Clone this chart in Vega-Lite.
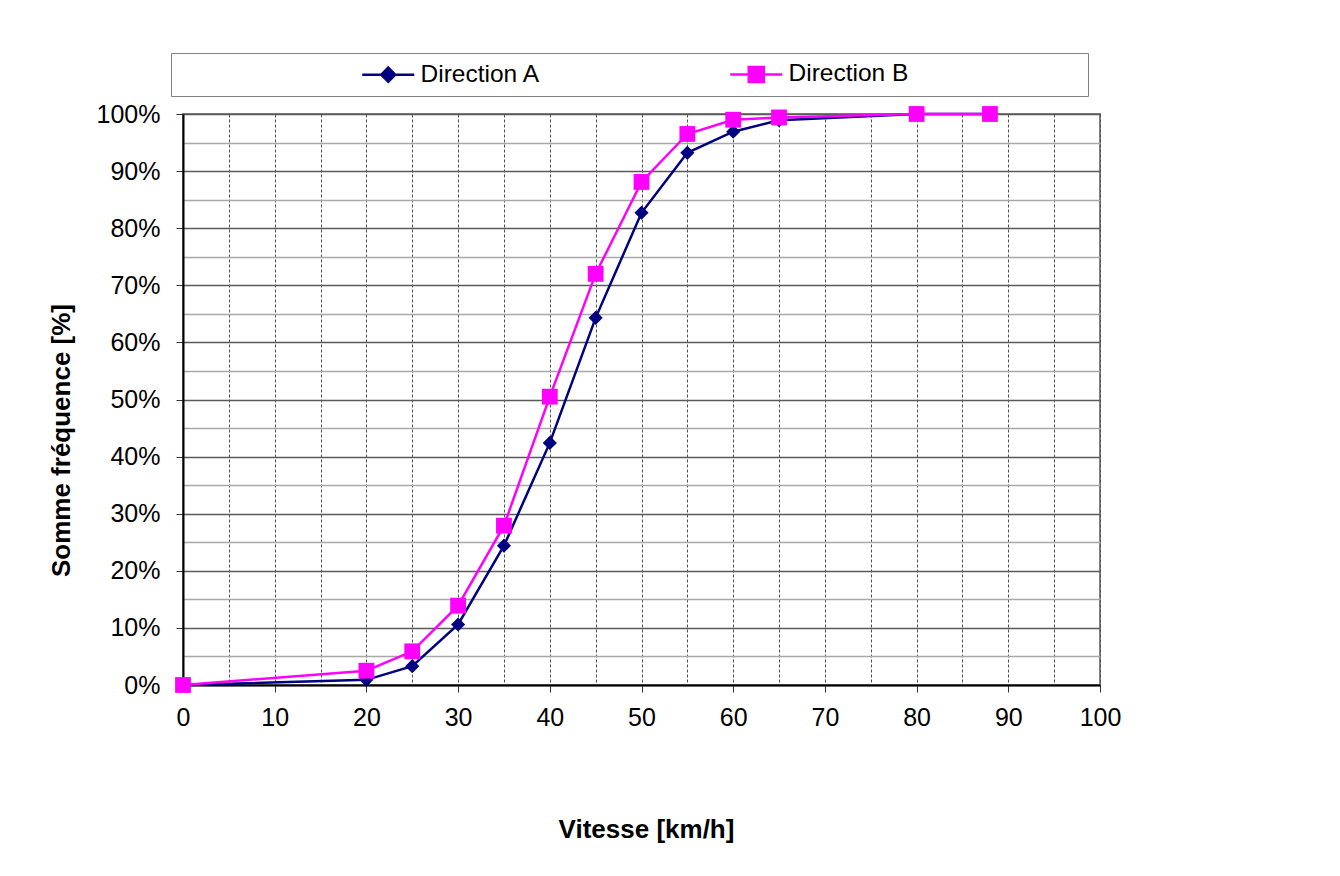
{
  "$schema": "https://vega.github.io/schema/vega-lite/v6.json",
  "autosize": {"type": "none"},
  "width": 917,
  "height": 571,
  "padding": {"left": 183, "top": 114, "right": 240, "bottom": 191},
  "background": "white",
  "config": {
    "font": "Liberation Sans",
    "view": {"stroke": "#808080", "strokeWidth": 2}
  },
  "data": {
    "values": [
      {"vitesse": 0, "freq": 0.0, "serie": "Direction A"},
      {"vitesse": 20, "freq": 0.009, "serie": "Direction A"},
      {"vitesse": 25, "freq": 0.033, "serie": "Direction A"},
      {"vitesse": 30, "freq": 0.106, "serie": "Direction A"},
      {"vitesse": 35, "freq": 0.244, "serie": "Direction A"},
      {"vitesse": 40, "freq": 0.424, "serie": "Direction A"},
      {"vitesse": 45, "freq": 0.643, "serie": "Direction A"},
      {"vitesse": 50, "freq": 0.827, "serie": "Direction A"},
      {"vitesse": 55, "freq": 0.932, "serie": "Direction A"},
      {"vitesse": 60, "freq": 0.969, "serie": "Direction A"},
      {"vitesse": 65, "freq": 0.989, "serie": "Direction A"},
      {"vitesse": 80, "freq": 1.0, "serie": "Direction A"},
      {"vitesse": 88, "freq": 1.0, "serie": "Direction A"},
      {"vitesse": 0, "freq": 0.0, "serie": "Direction B"},
      {"vitesse": 20, "freq": 0.025, "serie": "Direction B"},
      {"vitesse": 25, "freq": 0.059, "serie": "Direction B"},
      {"vitesse": 30, "freq": 0.139, "serie": "Direction B"},
      {"vitesse": 35, "freq": 0.279, "serie": "Direction B"},
      {"vitesse": 40, "freq": 0.505, "serie": "Direction B"},
      {"vitesse": 45, "freq": 0.720, "serie": "Direction B"},
      {"vitesse": 50, "freq": 0.881, "serie": "Direction B"},
      {"vitesse": 55, "freq": 0.965, "serie": "Direction B"},
      {"vitesse": 60, "freq": 0.990, "serie": "Direction B"},
      {"vitesse": 65, "freq": 0.994, "serie": "Direction B"},
      {"vitesse": 80, "freq": 1.0, "serie": "Direction B"},
      {"vitesse": 88, "freq": 1.0, "serie": "Direction B"}
    ]
  },
  "encoding": {
    "x": {
      "field": "vitesse", "type": "quantitative",
      "scale": {"domain": [0, 100], "nice": false, "zero": false},
      "axis": {
        "title": "Vitesse [km/h]",
        "titleFontSize": 26, "titleFontWeight": "bold", "titleColor": "black", "titlePadding": 86,
        "titleX": 463,
        "values": [0,5,10,15,20,25,30,35,40,45,50,55,60,65,70,75,80,85,90,95,100],
        "labelExpr": "datum.value % 10 === 0 ? datum.label : ''",
        "labelOverlap": false, "labelBound": false, "labelFlush": false,
        "labelFontSize": 25, "labelColor": "black", "labelPadding": 13,
        "tickSize": 7, "tickColor": "#333333", "tickWidth": 1,
        "tickOpacity": {"condition": {"test": "datum.value % 10 !== 0", "value": 0}, "value": 1},
        "domainColor": "black", "domainWidth": 2,
        "grid": true, "gridColor": "#505050", "gridDash": [3, 2], "gridWidth": 1
      }
    },
    "y": {
      "field": "freq", "type": "quantitative",
      "scale": {"domain": [0, 1], "nice": false},
      "axis": {
        "title": "Somme fréquence [%]",
        "titleFontSize": 26, "titleFontWeight": "bold", "titleColor": "black", "titlePadding": 22,
        "titleY": 326,
        "values": [0,0.05,0.1,0.15,0.2,0.25,0.3,0.35,0.4,0.45,0.5,0.55,0.6,0.65,0.7,0.75,0.8,0.85,0.9,0.95,1],
        "format": ".0%",
        "labelExpr": "round(datum.value * 100) % 10 === 0 ? datum.label : ''",
        "labelOverlap": false, "labelBound": false, "labelFlush": false,
        "labelFontSize": 25, "labelColor": "black", "labelPadding": 16,
        "tickSize": 7, "tickColor": "#333333", "tickWidth": 1,
        "tickOpacity": {"condition": {"test": "round(datum.value * 100) % 10 !== 0", "value": 0}, "value": 1},
        "domainColor": "black", "domainWidth": 2,
        "grid": true,
        "gridColor": {"condition": {"test": "round(datum.value * 100) % 10 === 0", "value": "#5a5a5a"}, "value": "#a8a8a8"},
        "gridWidth": 1.3
      }
    }
  },
  "layer": [
    {
      "mark": {"type": "line", "strokeWidth": 2.5},
      "encoding": {
        "color": {
          "field": "serie", "type": "nominal",
          "scale": {"domain": ["Direction A", "Direction B"], "range": ["#000080", "#FF00FF"]},
          "legend": {
            "title": null,
            "orient": "none", "legendX": -12, "legendY": -61,
            "direction": "horizontal", "columns": 2, "columnPadding": 7,
            "padding": 9,
            "strokeColor": "#808080", "fillColor": "white",
            "symbolSize": 4, "symbolStrokeWidth": 2.5, "symbolOffset": 196,
            "labelFont": "Liberation Sans", "labelFontSize": 24.5, "labelColor": "black",
            "labelOffset": 20, "labelLimit": 0,
            "encode": {
              "symbols": {
                "update": {
                  "shape": {"signal": "datum.value === 'Direction A' ? 'M-203,0M-26,0H26M0,-7L7,0L0,7L-7,0Z' : 'M-26,0H26M-7.5,-7.5H7.5V7.5H-7.5ZM317,0'"},
                  "fill": {"signal": "datum.value === 'Direction A' ? '#000080' : '#FF00FF'"},
                  "stroke": {"signal": "datum.value === 'Direction A' ? '#000080' : '#FF00FF'"},
                  "size": {"value": 4},
                  "strokeWidth": {"value": 2.5},
                  "opacity": {"value": 1}
                }
              }
            }
          }
        }
      }
    },
    {
      "transform": [{"filter": "datum.serie === 'Direction A'"}],
      "mark": {"type": "point", "shape": "diamond", "filled": true, "opacity": 1, "size": 200},
      "encoding": {"color": {"field": "serie", "type": "nominal", "legend": null}}
    },
    {
      "transform": [{"filter": "datum.serie === 'Direction B'"}],
      "mark": {"type": "point", "shape": "square", "filled": true, "opacity": 1, "size": 250},
      "encoding": {"color": {"field": "serie", "type": "nominal", "legend": null}}
    }
  ]
}
